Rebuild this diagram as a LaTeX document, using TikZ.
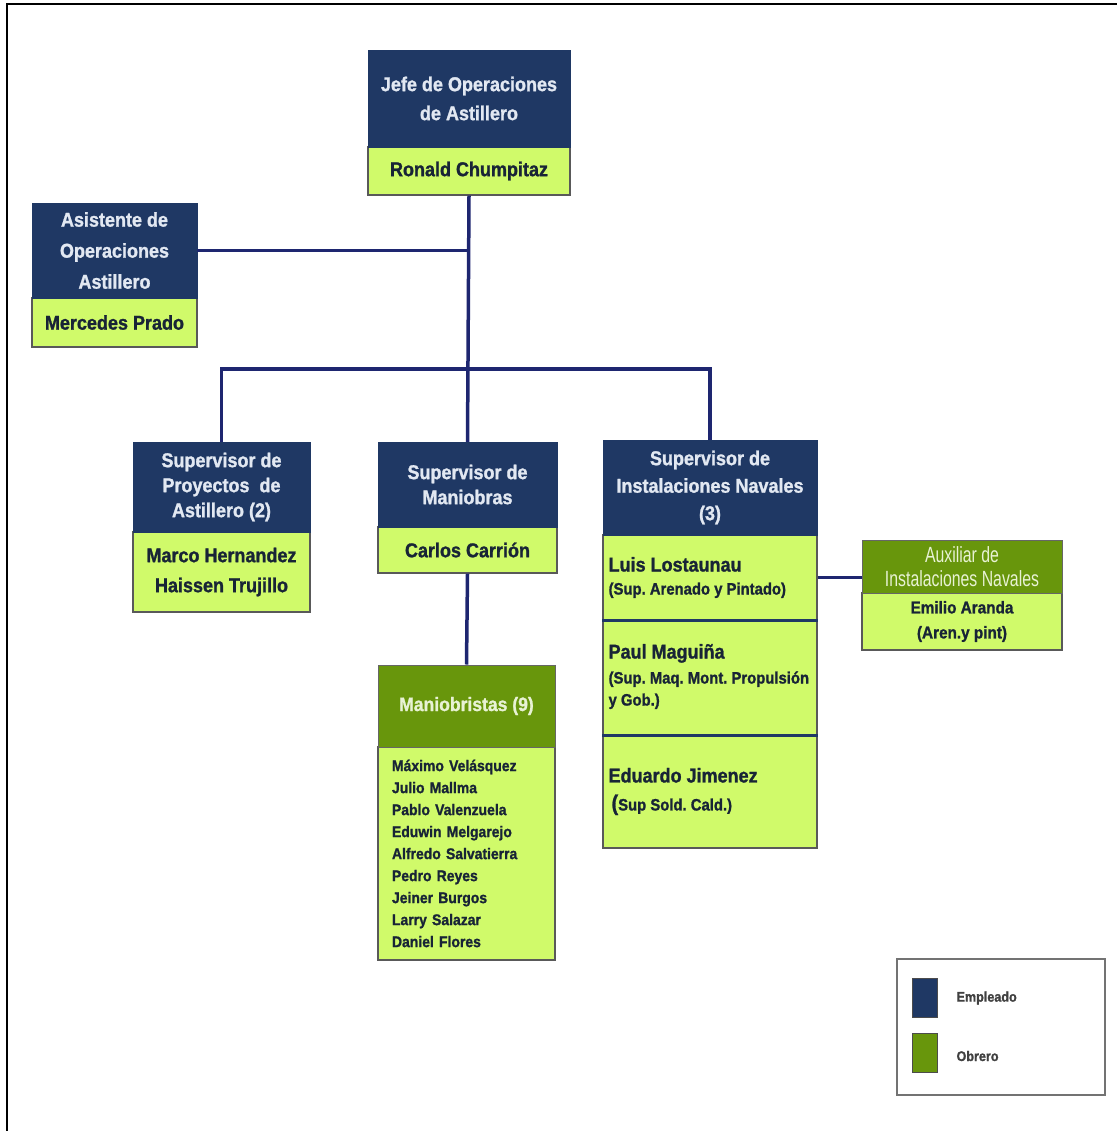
\documentclass[tikz,border=0pt]{standalone}
\usepackage{fontspec}
\setmainfont{Liberation Sans}[FakeStretch=0.9, BoldFeatures={FakeBold=1.2}]
\newfontfamily\narrowfont{Liberation Sans}[FakeStretch=0.72]
\newcommand\notefont{\bfseries\fontsize{16.5}{22}\selectfont}
\frenchspacing
\definecolor{navy}{RGB}{31,56,100}
\definecolor{lime}{RGB}{208,250,106}
\definecolor{olive}{RGB}{104,150,12}
\definecolor{wirecol}{RGB}{30,38,112}
\definecolor{ink}{RGB}{24,36,54}
\definecolor{paletext}{RGB}{226,232,242}
\definecolor{paleolive}{RGB}{232,242,212}
\tikzset{
  hdr/.style={draw=navy, fill=navy, text=paletext, align=center, inner sep=0pt,
    font=\bfseries\fontsize{20}{28}\selectfont},
  ohdr/.style={draw=black!60, line width=1pt, fill=olive, text=paleolive, align=center, inner sep=0pt},
  body/.style={draw=black!65, line width=1.2pt, fill=lime, text=ink, align=center, inner sep=0pt,
    font=\bfseries\fontsize{20}{30}\selectfont},
  bodytext/.style={anchor=west, text=ink, align=left, inner sep=0pt,
    font=\bfseries\fontsize{20}{26}\selectfont},
  wire/.style={draw=wirecol, line width=3.5pt},
  swatch/.style={draw=black!70, line width=1pt, minimum width=25pt, minimum height=39pt, inner sep=0pt},
  legtext/.style={anchor=west, text=black!75, font=\bfseries\fontsize{14}{16}\selectfont}
}
\begin{document}
\begin{tikzpicture}[x=1pt,y=-1pt]
\useasboundingbox (0,0) rectangle (1117,1131);
% outer frame (left and top edges)
\draw[black, line width=2.5pt] (7,1131) -- (7,4) -- (1117,4);

% Jefe de Operaciones
\node[body, minimum width=202pt, minimum height=48pt] (jefeB) at (469,171) {Ronald Chumpitaz};
\node[hdr, minimum width=202pt, minimum height=97pt, font=\bfseries\fontsize{20}{29}\selectfont] (jefeH) at (469,98.5) {Jefe de Operaciones\\de Astillero};

% Asistente
\node[body, minimum width=165pt, minimum height=49pt] (asisB) at (114.5,322.5) {Mercedes Prado};
\node[hdr, minimum width=165pt, minimum height=95pt, font=\bfseries\fontsize{20}{31}\selectfont] (asisH) at (114.5,250.5) {Asistente de\\Operaciones\\Astillero};

% Supervisor de Proyectos
\node[body, minimum width=177pt, minimum height=80pt] (proyB) at (221.5,572) {Marco Hernandez\\Haissen Trujillo};
\node[hdr, minimum width=177pt, minimum height=90pt, font=\bfseries\fontsize{20}{25}\selectfont] (proyH) at (221.5,487) {Supervisor de\\Proyectos\ \ de\\Astillero (2)};

% Supervisor de Maniobras
\node[body, minimum width=179pt, minimum height=46pt] (maniB) at (467.5,550) {Carlos Carri\'on};
\node[hdr, minimum width=179pt, minimum height=85pt, font=\bfseries\fontsize{20}{25}\selectfont] (maniH) at (467.5,484.5) {Supervisor de\\Maniobras};

% Supervisor de Instalaciones Navales: three stacked cells
\node[body, minimum width=214pt, minimum height=85pt] (inst1) at (710,577.5) {};
\node[body, minimum width=214pt, minimum height=115pt] (inst2) at (710,677.5) {};
\node[body, minimum width=214pt, minimum height=113pt] (inst3) at (710,791.5) {};
\node[hdr, minimum width=214pt, minimum height=95pt, font=\bfseries\fontsize{20}{27.5}\selectfont] (instH) at (710,487.5) {Supervisor de\\Instalaciones Navales\\(3)};
\draw[navy, line width=3pt] (inst1.south west) -- (inst1.south east);
\draw[navy, line width=3pt] (inst2.south west) -- (inst2.south east);
\node[bodytext] (inst1t) at ([xshift=6pt]inst1.west)
  {Luis Lostaunau\\[-3pt]{\notefont(Sup. Arenado y Pintado)}};
\node[bodytext] (inst2t) at ([xshift=6pt,yshift=1pt]inst2.west)
  {Paul Magui\~na\\[-1pt]{\notefont(Sup. Maq. Mont. Propulsi\'on}\\[-4pt]{\notefont y Gob.)}};
\node[bodytext] (inst3t) at ([xshift=6pt]inst3.west)
  {Eduardo Jimenez\\[2pt]{\notefont\hspace*{3pt}{\fontsize{22}{22}\selectfont(}Sup Sold. Cald.)}};

% Auxiliar de Instalaciones Navales
\node[body, minimum width=200pt, minimum height=57pt, font=\bfseries\fontsize{17}{25}\selectfont] (auxB) at (962,621.5) {Emilio Aranda\\(Aren.y pint)};
\node[ohdr, minimum width=200pt, minimum height=53pt, font=\narrowfont\fontsize{22}{24}\selectfont] (auxH) at (962,566.5) {Auxiliar de\\Instalaciones Navales};

% Maniobristas
\node[body, minimum width=177pt, minimum height=213pt, text width=149pt, align=left, font=\bfseries\fontsize{15.5}{22}\selectfont] (mnbB) at (466.5,853.5)
  {M\'aximo Vel\'asquez\\Julio Mallma\\Pablo Valenzuela\\Eduwin Melgarejo\\Alfredo Salvatierra\\Pedro Reyes\\Jeiner Burgos\\Larry Salazar\\Daniel Flores};
\node[ohdr, minimum width=177pt, minimum height=82pt, font=\bfseries\fontsize{19.5}{24}\selectfont] (mnbH) at (466.5,706) {Maniobristas (9)};

% connectors
\coordinate (bus) at (469,369);
\draw[wire] (jefeB.south) -- (maniH.north);
\draw[wire] (asisH.east) -- (asisH.east -| jefeB.south);
\draw[wire] (proyH.north) |- (bus) -| (instH.north);
\draw[wire] (maniB.south) -- (mnbH.north);
\draw[wire] (inst1.east) -- (inst1.east -| auxH.west);

% legend
\node[draw=black!55, line width=2pt, minimum width=208pt, minimum height=136pt, inner sep=0pt] (legend) at (1001,1027) {};
\node[swatch, fill=navy] (swEmp) at (924.5,997.5) {};
\node[swatch, fill=olive] (swObr) at (924.5,1052.5) {};
\node[legtext] (lEmp) at (953,998) {Empleado};
\node[legtext] (lObr) at (953,1056) {Obrero};
\end{tikzpicture}
\end{document}
